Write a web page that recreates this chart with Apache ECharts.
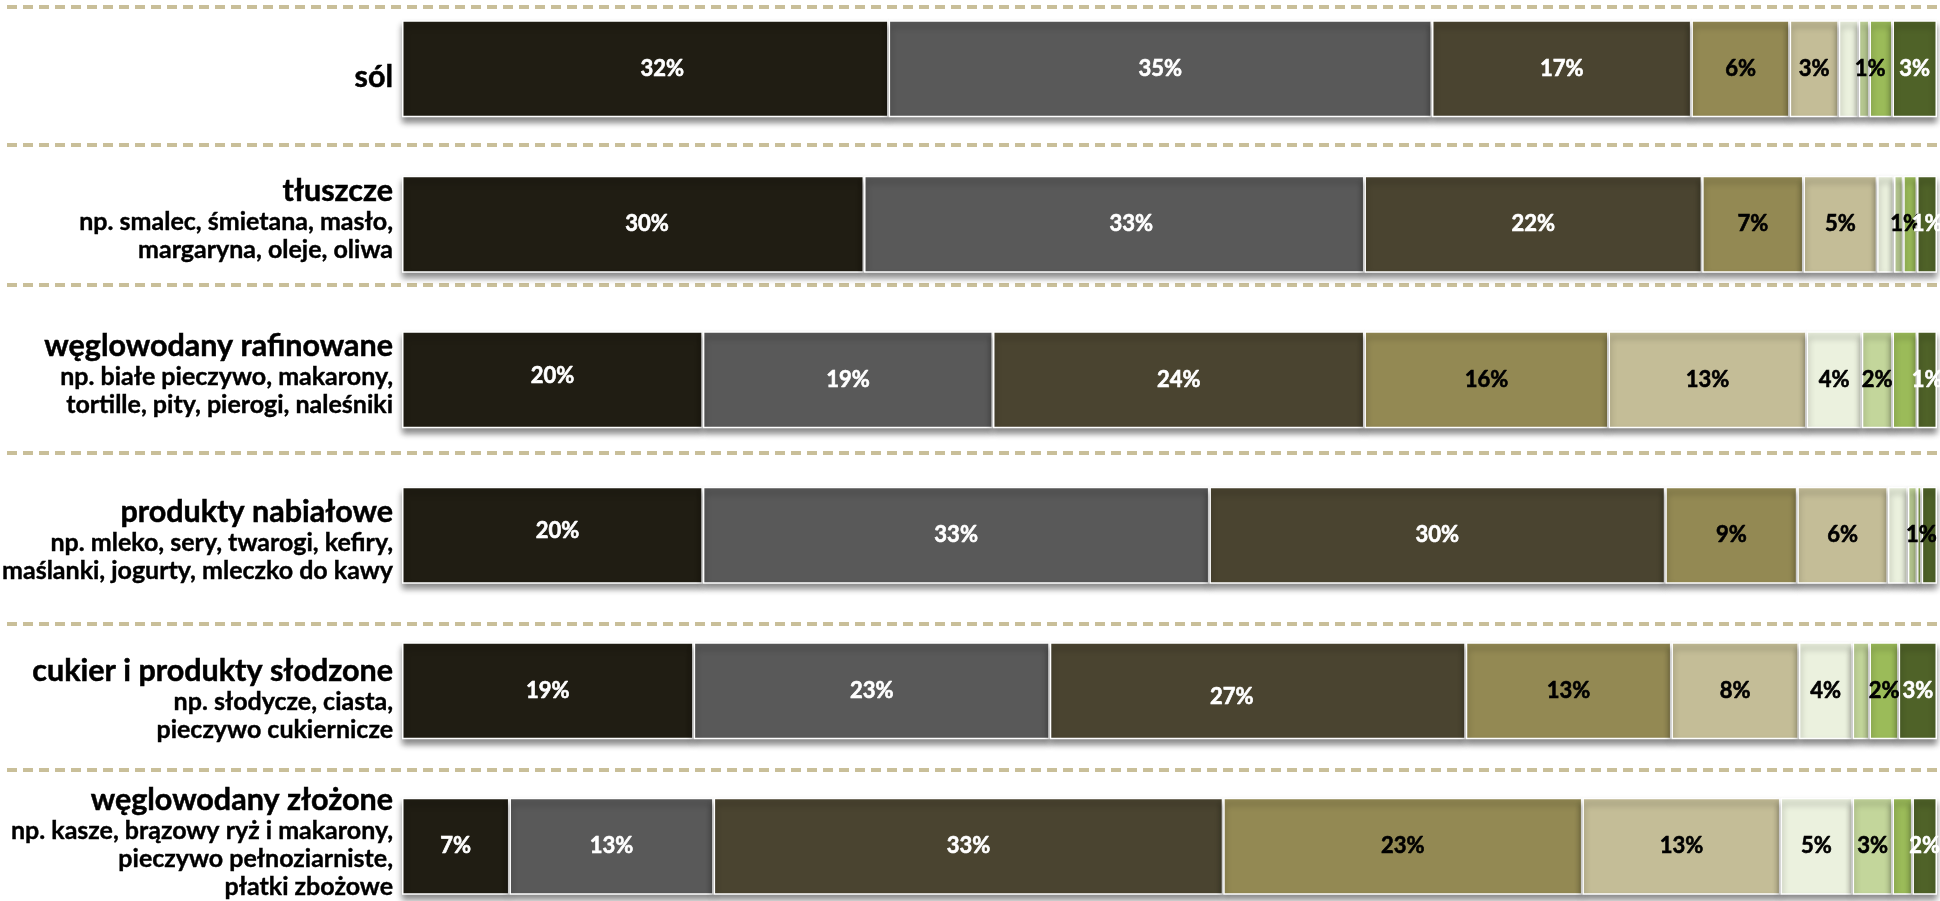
<!DOCTYPE html>
<html lang="pl">
<head>
<meta charset="utf-8">
<title>Spożycie wybranych grup produktów</title>
<script src="https://cdn.jsdelivr.net/npm/echarts@6/dist/echarts.min.js"></script>
<style>
  html, body { margin: 0; padding: 0; background: #ffffff; }
  #chart { width: 1940px; height: 901px; }
</style>
</head>
<body>
<div id="chart"></div>
<script>
// Product groups (top to bottom) and their example lines
const categories = [
  'sól',
  'tłuszcze',
  'węglowodany rafinowane',
  'produkty nabiałowe',
  'cukier i produkty słodzone',
  'węglowodany złożone'
];
const subtitles = [
  [],
  ['np. smalec, śmietana, masło,', 'margaryna, oleje, oliwa'],
  ['np. białe pieczywo, makarony,', 'tortille, pity, pierogi, naleśniki'],
  ['np. mleko, sery, twarogi, kefiry,', 'maślanki, jogurty, mleczko do kawy'],
  ['np. słodycze, ciasta,', 'pieczywo cukiernicze'],
  ['np. kasze, brązowy ryż i makarony,', 'pieczywo pełnoziarniste,', 'płatki zbożowe']
];

// Shares (%) of the nine answer groups, one array per group, rows in category order
const share1 = [31.7, 30.1, 19.6, 19.6, 19.0, 7.0];
const share2 = [35.4, 32.6, 18.9, 33.0, 23.2, 13.3];
const share3 = [16.9, 22.0, 24.2, 29.7, 27.1, 33.2];
const share4 = [6.4, 6.6, 15.9, 8.6, 13.4, 23.4];
const share5 = [3.2, 4.8, 12.9, 5.9, 8.3, 12.9];
const share6 = [1.3, 1.1, 3.6, 1.3, 3.5, 4.7];
const share7 = [0.7, 0.6, 2.0, 0.6, 1.1, 2.6];
const share8 = [1.5, 0.9, 1.6, 0.3, 1.9, 1.3];
const share9 = [2.9, 1.3, 1.3, 1.0, 2.5, 1.6];
const shares = [share1, share2, share3, share4, share5, share6, share7, share8, share9];

// Segment fills and label colours
const fills = ['#201d13', '#595959', '#4a4430', '#938953', '#c4bd97', '#ebf1de', '#c3d69b', '#9bbb59', '#4f6228'];
const labelColors = ['#ffffff', '#ffffff', '#ffffff', '#000000', '#000000', '#000000', '#000000', '#000000', '#ffffff'];

// Value labels left out on thin segments: [series index, row index]
const hiddenLabels = [[5, 0], [7, 0], [5, 1], [7, 1], [7, 2], [5, 3], [7, 3], [8, 3], [6, 4], [7, 5]];

// Hand-placed value labels: [series index, row index, dx, dy] in px
const labelShifts = [
  [0, 0, 17, 0], [0, 1, 14, 0], [1, 1, 17, 0], [0, 2, 0, -4], [0, 3, 5, -4], [2, 4, -26, 6],
  [6, 0, 6, 0], [6, 1, 7, 0], [6, 3, 9, 0]
];

// Vertical nudge (px) of each row's text block relative to its bar
const labelNudge = [8, -5, -6, 5, 8, -4];

// Dashed separators (pixel rows)
const separatorRows = [7, 145, 285, 453, 624, 770];

const FONT = 'Lato, "Open Sans", sans-serif';

function isHidden(s, r) {
  return hiddenLabels.some(([hs, hr]) => hs === s && hr === r);
}
function shiftOf(s, r) {
  const m = labelShifts.find(([ms, mr]) => ms === s && mr === r);
  return m ? [m[2], m[3]] : [0, 0];
}

const series = shares.map((vals, s) => ({
  name: 'grupa ' + (s + 1),
  type: 'bar',
  stack: 'total',
  barWidth: 97,
  data: vals.map((v, r) => ({
    value: v,
    label: { show: !isHidden(s, r), offset: shiftOf(s, r) }
  })),
  itemStyle: {
    color: fills[s],
    borderColor: '#ffffff',
    borderWidth: 1.5,
    shadowColor: 'rgba(0,0,0,0.45)',
    shadowBlur: 6,
    shadowOffsetY: 5
  },
  label: {
    show: true,
    position: 'inside',
    formatter: p => Math.round(p.value) + '%',
    color: labelColors[s],
    fontFamily: FONT,
    fontWeight: 'bold',
    fontSize: 22,
    textBorderColor: labelColors[s],
    textBorderWidth: 0.6
  },
  emphasis: { disabled: true }
}));

// Category entries carry a small per-row padding so each text block sits where intended
const yData = categories.map((name, i) => {
  const d = labelNudge[i];
  return {
    value: name,
    textStyle: { padding: d >= 0 ? [2 * d, 0, 0, 0] : [0, 0, -2 * d, 0] }
  };
});

const chart = echarts.init(document.getElementById('chart'), null, { renderer: 'canvas' });

chart.setOption({
  backgroundColor: '#ffffff',
  animation: false,
  grid: { left: 402, right: 3, top: -9, height: 933, containLabel: false, outerBoundsMode: 'none' },
  xAxis: {
    type: 'value', min: 0, max: 100,
    show: false
  },
  yAxis: {
    type: 'category',
    inverse: true,
    data: yData,
    axisLine: { show: false },
    axisTick: { show: false },
    splitLine: { show: false },
    axisLabel: {
      margin: 9,
      align: 'right',
      formatter: (name) => {
        const i = categories.indexOf(name);
        const lines = ['{t|' + name + '}'].concat(subtitles[i].map(l => '{s|' + l + '}'));
        return lines.join('\n');
      },
      rich: {
        t: { fontFamily: FONT, fontWeight: 'bold', fontSize: 30.5, lineHeight: 34, color: '#000000', align: 'right',
             textBorderColor: '#000000', textBorderWidth: 0.5 },
        s: { fontFamily: FONT, fontWeight: 'bold', fontSize: 25, lineHeight: 28, color: '#000000', align: 'right',
             textBorderColor: '#000000', textBorderWidth: 0.4 }
      }
    }
  },
  graphic: separatorRows.map(y => ({
    type: 'line',
    silent: true,
    z: 0,
    shape: { x1: 7, y1: y, x2: 1940, y2: y },
    style: { stroke: '#c9bf99', lineWidth: 4, lineDash: [10, 6] }
  })),
  series: series
});
</script>
</body>
</html>
